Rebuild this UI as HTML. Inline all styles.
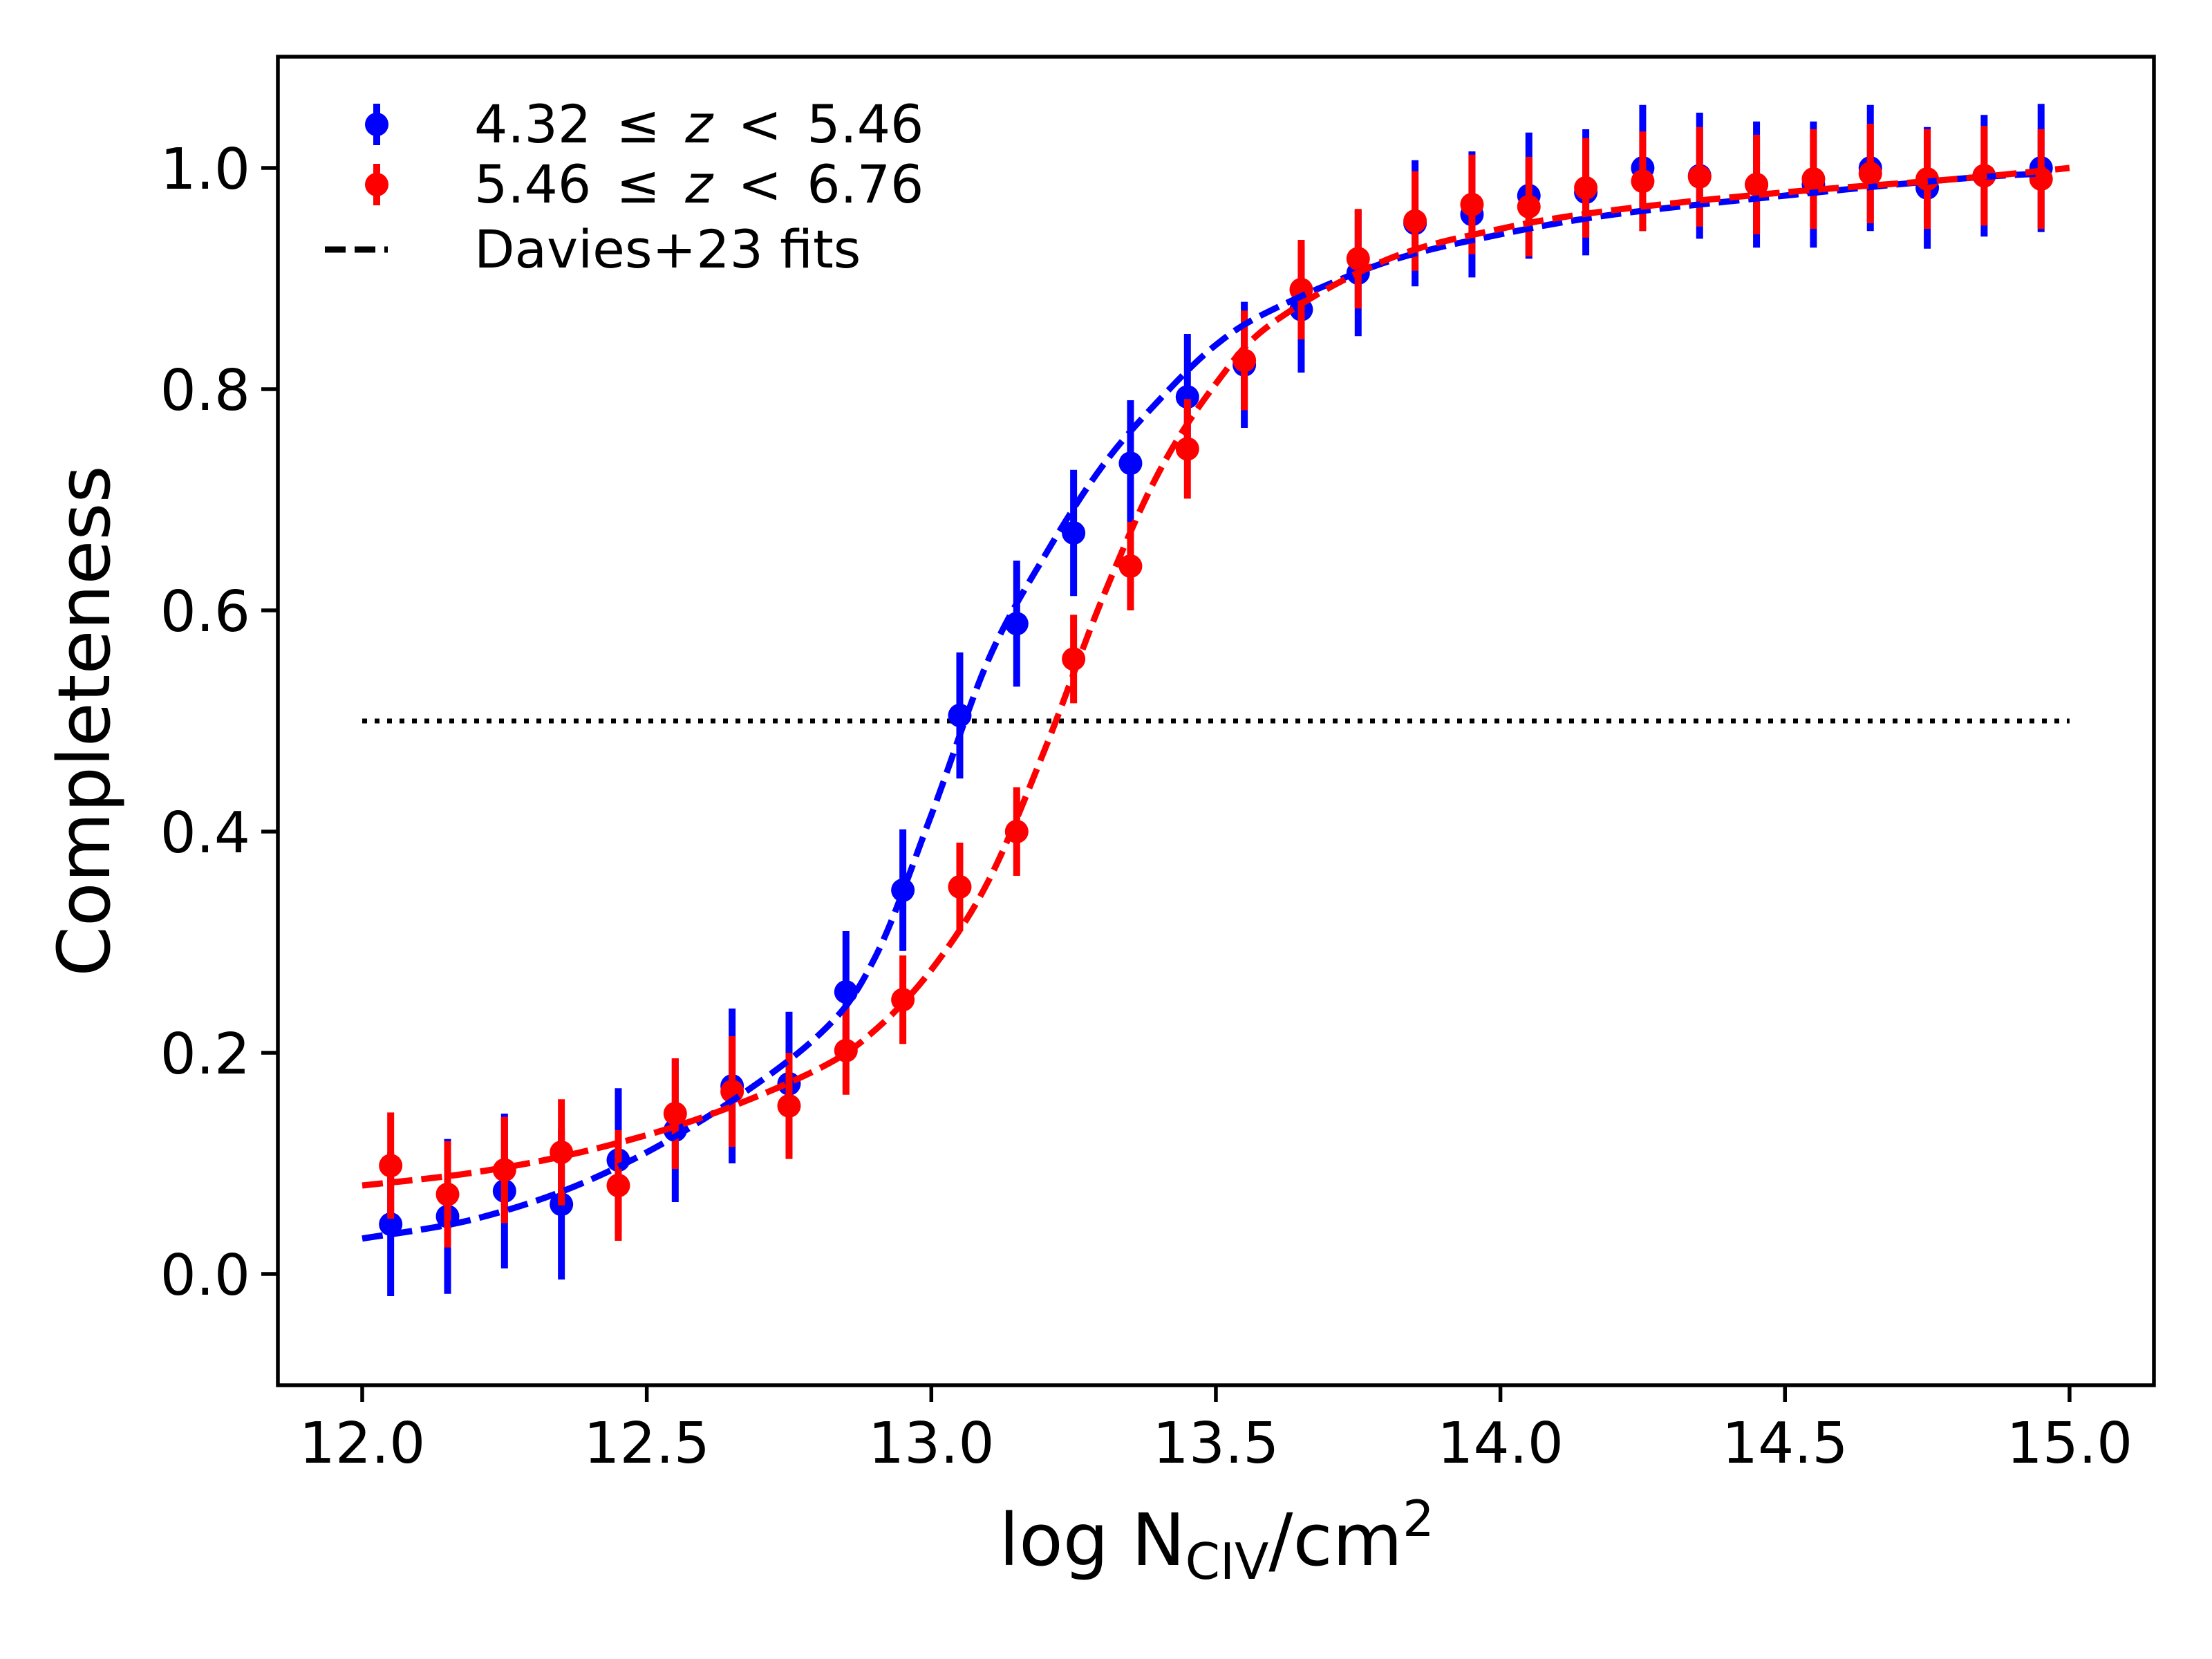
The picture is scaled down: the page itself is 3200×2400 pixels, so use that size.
<!DOCTYPE html>
<html><head><meta charset="utf-8">
<style>html,body{margin:0;padding:0;background:#fff;}svg{display:block;font-family:"DejaVu Sans","Liberation Sans",sans-serif;}</style>
</head><body>
<svg id="chart" width="3200" height="2400" viewBox="0 0 3200 2400" xmlns="http://www.w3.org/2000/svg"></svg>
<script>
const xTicks=[12.0,12.5,13.0,13.5,14.0,14.5,15.0];
const xTickLabels=["12.0","12.5","13.0","13.5","14.0","14.5","15.0"];
const yTicks=[0.0,0.2,0.4,0.6,0.8,1.0];
const yTickLabels=["0.0","0.2","0.4","0.6","0.8","1.0"];
const binCenters=[12.05,12.15,12.25,12.35,12.45,12.55,12.65,12.75,12.85,12.95,13.05,13.15,13.25,13.35,13.45,13.55,13.65,13.75,13.85,13.95,14.05,14.15,14.25,14.35,14.45,14.55,14.65,14.75,14.85,14.95];
const blueVals=[0.045,0.052,0.075,0.063,0.103,0.13,0.17,0.172,0.255,0.347,0.505,0.588,0.67,0.733,0.793,0.822,0.872,0.905,0.95,0.958,0.975,0.978,1.0,0.993,0.985,0.985,1.0,0.982,0.993,1.0];
const blueErr=[0.065,0.07,0.07,0.068,0.065,0.065,0.07,0.065,0.055,0.055,0.057,0.057,0.057,0.057,0.057,0.057,0.057,0.057,0.057,0.057,0.057,0.057,0.057,0.057,0.057,0.057,0.057,0.055,0.055,0.058];
const redVals=[0.098,0.072,0.094,0.11,0.08,0.145,0.165,0.152,0.202,0.248,0.35,0.4,0.556,0.64,0.746,0.826,0.89,0.918,0.952,0.967,0.965,0.982,0.988,0.992,0.985,0.99,0.995,0.99,0.993,0.99];
const redErr=[0.048,0.048,0.048,0.048,0.05,0.05,0.05,0.048,0.04,0.04,0.04,0.04,0.04,0.04,0.045,0.045,0.045,0.045,0.045,0.045,0.045,0.045,0.045,0.045,0.045,0.045,0.045,0.045,0.045,0.045];
const blueFitX=[12.0,12.2,12.4,12.6,12.8,12.9,13.0,13.1,13.2,13.3,13.4,13.5,13.6,13.8,14.0,14.2,14.5,14.8,14.95];
const blueFitY=[0.032,0.05,0.085,0.14,0.215,0.285,0.415,0.555,0.65,0.73,0.79,0.84,0.872,0.915,0.94,0.958,0.975,0.99,0.995];
const redFitX=[12.0,12.2,12.4,12.6,12.8,12.9,13.0,13.1,13.2,13.3,13.4,13.5,13.6,13.8,14.0,14.2,14.5,14.8,15.0];
const redFitY=[0.08,0.092,0.112,0.142,0.185,0.22,0.275,0.355,0.475,0.61,0.725,0.805,0.86,0.917,0.945,0.962,0.978,0.99,1.0];
const threshold=0.5;

const L=402,R=3116,T=82,B=2004;
const X0=524,XPU=823.3,Y0=1843,YPU=1600;
function sx(v){return X0+(v-12)*XPU;}
function sy(v){return Y0-v*YPU;}
const svg=document.getElementById('chart');
const NS='http://www.w3.org/2000/svg';
function mk(tag,attrs,parent){const e=document.createElementNS(NS,tag);for(const k in attrs)e.setAttribute(k,attrs[k]);(parent||svg).appendChild(e);return e;}

let frame=mk('rect',{x:L,y:T,width:R-L,height:B-T,fill:'none',stroke:'#000','stroke-width':5.5});



xTicks.forEach((t,i)=>{
  let g=mk('g',{});
  
  
  mk('line',{x1:sx(t),x2:sx(t),y1:B,y2:B+24,stroke:'#000','stroke-width':5.5},g);
  let tx=mk('text',{x:sx(t),y:B+112,'font-size':82,'text-anchor':'middle'},g);tx.textContent=xTickLabels[i];
});
yTicks.forEach((t,i)=>{
  let g=mk('g',{});
  
  
  mk('line',{x1:L-24,x2:L,y1:sy(t),y2:sy(t),stroke:'#000','stroke-width':5.5},g);
  let tx=mk('text',{x:L-40,y:sy(t)+30,'font-size':82,'text-anchor':'end'},g);tx.textContent=yTickLabels[i];
});

let th=mk('line',{x1:sx(12),x2:sx(15),y1:sy(threshold),y2:sy(threshold),stroke:'#000','stroke-width':7,'stroke-dasharray':'7 11'});



function series(vals,errs,color,name){
  let g=mk('g',{});
  
  
  binCenters.forEach((x,i)=>{
    mk('line',{x1:sx(x),x2:sx(x),y1:sy(vals[i]-errs[i]),y2:sy(vals[i]+errs[i]),stroke:color,'stroke-width':10},g);
    let c=mk('circle',{cx:sx(x),cy:sy(vals[i]),r:17,fill:color},g);
    
    
  });
}
function smoothPath(xs,ys){
  const P=xs.map((x,i)=>[sx(x),sy(ys[i])]);
  let d='M'+P[0][0]+','+P[0][1];
  for(let i=0;i<P.length-1;i++){
    const p0=P[Math.max(i-1,0)],p1=P[i],p2=P[i+1],p3=P[Math.min(i+2,P.length-1)];
    const c1=[p1[0]+(p2[0]-p0[0])/6,p1[1]+(p2[1]-p0[1])/6];
    const c2=[p2[0]-(p3[0]-p1[0])/6,p2[1]-(p3[1]-p1[1])/6];
    d+=' C'+c1[0]+','+c1[1]+' '+c2[0]+','+c2[1]+' '+p2[0]+','+p2[1];
  }
  return d;
}
function fit(xs,ys,color,name){
  let pl=mk('path',{d:smoothPath(xs,ys),fill:'none',stroke:color,'stroke-width':9,'stroke-dasharray':'30 13'});
  
  
}
series(blueVals,blueErr,'#0000ff','blue-series');
series(redVals,redErr,'#ff0000','red-series');
fit(blueFitX,blueFitY,'#0000ff','blue-fit-line');
fit(redFitX,redFitY,'#ff0000','red-fit-line');

let lg=mk('g',{});


[['#0000ff',180],['#ff0000',267]].forEach(([c,y])=>{
  mk('line',{x1:545,x2:545,y1:y-30,y2:y+30,stroke:c,'stroke-width':10},lg);
  mk('circle',{cx:545,cy:y,r:17,fill:c},lg);
});
mk('line',{x1:470,x2:561,y1:361,y2:361,stroke:'#000','stroke-width':9,'stroke-dasharray':'30 13'},lg);
</script>
<svg style="position:absolute;left:0;top:0" width="3200" height="2400">
<g font-family="DejaVu Sans, Liberation Sans, sans-serif" font-size="76">
<text x="686" y="206">4.32 <tspan dx="12">≤</tspan> <tspan dx="12" font-style="italic">z</tspan> <tspan dx="12">&lt;</tspan> <tspan dx="12">5.46</tspan></text>
<text x="686" y="293">5.46 <tspan dx="12">≤</tspan> <tspan dx="12" font-style="italic">z</tspan> <tspan dx="12">&lt;</tspan> <tspan dx="12">6.76</tspan></text>
<text x="686" y="387">Davies+23 fits</text>
</g>
<text x="122" y="1043" font-family="DejaVu Sans, Liberation Sans, sans-serif" font-size="104" text-anchor="middle" transform="rotate(-90 122 1043)" dy="36">Completeness</text>
<text x="1760" y="2264" font-family="DejaVu Sans, Liberation Sans, sans-serif" font-size="104" text-anchor="middle">log N<tspan font-size="72" dy="20">CIV</tspan><tspan dy="-20">/cm</tspan><tspan font-size="72" dy="-42">2</tspan></text>
</svg>
</body></html>
